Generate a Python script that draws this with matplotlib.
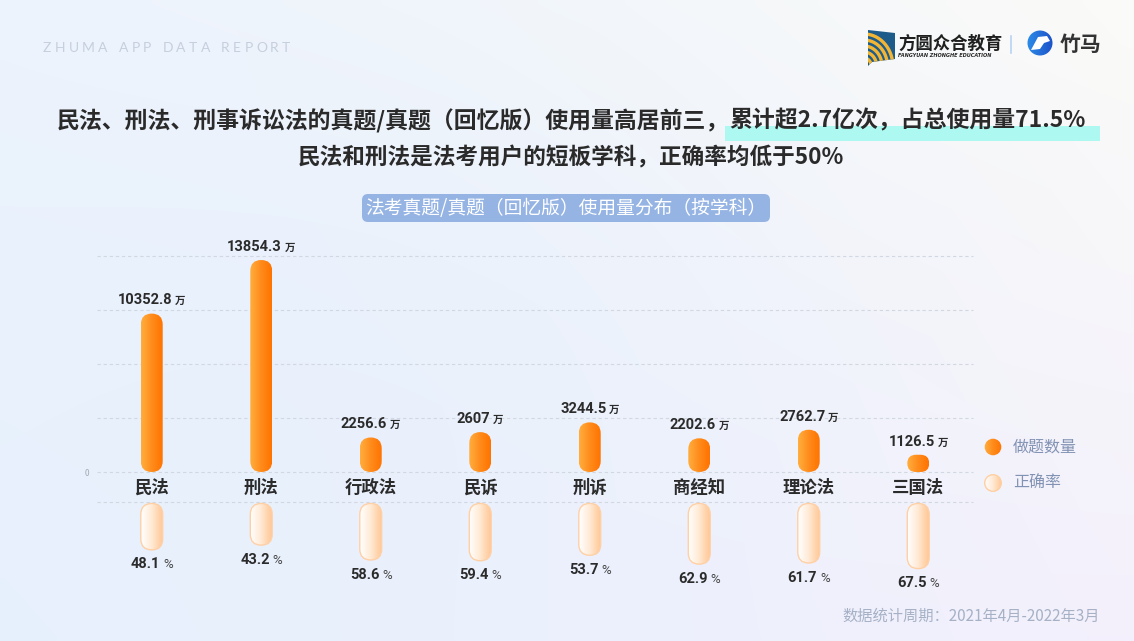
import numpy as np
import matplotlib
matplotlib.use('Agg')
import matplotlib.pyplot as plt
import matplotlib.colors as mcolors
from matplotlib.colors import LinearSegmentedColormap
from matplotlib.patches import FancyBboxPatch, Circle, Polygon, Rectangle
from matplotlib.offsetbox import TextArea, HPacker, AnnotationBbox
from matplotlib import font_manager

# ---------------- data ----------------
categories = ['民法', '刑法', '行政法', '民诉', '刑诉', '商经知', '理论法', '三国法']
usage_wan = [10352.8, 13854.3, 2256.6, 2607, 3244.5, 2202.6, 2762.7, 1126.5]
accuracy = [48.1, 43.2, 58.6, 59.4, 53.7, 62.9, 61.7, 67.5]
legend_labels = ['做题数量', '正确率']
title_a = '民法、刑法、刑事诉讼法的真题/真题（回忆版）使用量高居前三，'
title_b = '累计超2.7亿次，占总使用量71.5%'
title_2 = '民法和刑法是法考用户的短板学科，正确率均低于50%'
subtitle = '法考真题/真题（回忆版）使用量分布（按学科）'
header = 'ZHUMA APP DATA REPORT'
footer = '数据统计周期：2021年4月-2022年3月'
logo1_cn = '方圆众合教育'
logo1_en = 'FANGYUAN ZHONGHE EDUCATION'
logo2 = '竹马'

plt.rcParams['font.family'] = ['Noto Sans CJK SC', 'DejaVu Sans']

avail = {f.name for f in font_manager.fontManager.ttflist}
num_font = next((f for f in ['Liberation Sans Narrow', 'Roboto', 'DejaVu Sans'] if f in avail), 'DejaVu Sans')
lat_font = next((f for f in ['Lato', 'Open Sans', 'DejaVu Sans'] if f in avail), 'DejaVu Sans')

W, H, DPI = 1134, 641, 100
fig = plt.figure(figsize=(W / DPI, H / DPI), dpi=DPI)


def fx(px):
    return px / W


def fy(py):
    return 1 - py / H


# ---------------- background / decoration axes (pixel coords) ----------------
bg = fig.add_axes([0, 0, 1, 1], zorder=0)
bg.set_xlim(0, W)
bg.set_ylim(H, 0)
bg.axis('off')
c = {k: np.array(mcolors.to_rgb(v)) for k, v in
     dict(tl='#EEF4FD', tr='#FBFBF8', bl='#E7F1FD', br='#F4F0FC', mid='#E5EFFC').items()}
ny, nx = 80, 140
u = np.linspace(0, 1, nx)[None, :, None]
v = np.linspace(0, 1, ny)[:, None, None]
img = (1 - v) * ((1 - u) * c['tl'] + u * c['tr']) + v * ((1 - u) * c['bl'] + u * c['br'])
d = np.exp(-(((u - 0.3) / 0.45) ** 2 + ((v - 0.6) / 0.6) ** 2))
img = img * (1 - 0.5 * d) + c['mid'] * 0.5 * d
bg.imshow(np.clip(img, 0, 1), extent=(0, W, H, 0), aspect='auto', interpolation='bilinear', zorder=0)
bg.set_xlim(0, W)
bg.set_ylim(H, 0)

r = fig.canvas.get_renderer()

# header with letter spacing
xh = 43
for ch in header:
    if ch == ' ':
        xh += 8
        continue
    t = bg.text(xh, 48, ch, fontsize=10, color='#C6CFDD', family=lat_font, va='center', ha='left')
    xh += t.get_window_extent(r).width + 3.3

# logo 1 icon
icon = Polygon([(868, 30), (895, 33), (895, 59), (872, 62), (868, 66)], closed=True,
               fc='#1D5B8B', ec='none', zorder=2)
bg.add_patch(icon)
for k in range(5):
    th = np.linspace(-0.2, 1.6, 30)
    rr = 8 + k * 6
    ln, = bg.plot(864 + rr * np.cos(th) * 0.9, 66 - rr * np.sin(th),
                  color='#F2B634', lw=2.4, zorder=3, solid_capstyle='butt')
    ln.set_clip_path(icon)
bg.text(898, 44, logo1_cn, fontsize=12.5, fontweight='bold', color='#1F1F1F', va='center', ha='left')
bg.text(898, 55.5, logo1_en, fontsize=3.6, fontweight='bold', style='italic', color='#2A2A2A',
        family='DejaVu Sans', va='center', ha='left')
bg.plot([1011, 1011], [36, 53], color='#B9D3F2', lw=1.2)
# logo 2 icon
circ2 = Circle((1040, 43), 12.5, fc='none', ec='none')
bg.add_patch(circ2)
im = bg.imshow(np.linspace(0, 1, 32)[None, :], extent=(1027, 1053, 56, 30), aspect='auto',
               cmap=LinearSegmentedColormap.from_list('b', ['#2C8CE8', '#1E52C8']), zorder=2)
im.set_clip_path(circ2)
bg.add_patch(Polygon([(1031, 50), (1038, 37), (1047, 36), (1050, 41), (1044, 43), (1040, 49)],
                     fc='white', ec='none', zorder=3))
bg.text(1060, 44, logo2, fontsize=15, fontweight='bold', color='#333333', va='center', ha='left')

# titles with highlight
tkw = dict(fontsize=16.5, fontweight='bold', color='#2A2A2A', va='center', ha='left', zorder=3)
ta = bg.text(0, 121, title_a, **tkw)
tb = bg.text(0, 121, title_b, **tkw)
wa = ta.get_window_extent(r).width
wb = tb.get_window_extent(r).width
left = 571 - (wa + wb) / 2
ta.set_x(left)
tb.set_x(left + wa)
bg.add_patch(Rectangle((left + wa - 4, 126), wb + 19, 15, fc='#AEF8F2', ec='none', zorder=2))
bg.text(571, 158, title_2, fontsize=16.3, fontweight='bold', color='#2A2A2A', va='center', ha='center', zorder=3)

# subtitle pill
bg.add_patch(FancyBboxPatch((362, 194), 408, 28, boxstyle='round,pad=0,rounding_size=6',
                            fc='#95B4E3', ec='none', zorder=2))
bg.text(566, 208.5, subtitle, fontsize=13.5, color='white', va='center', ha='center', zorder=3)

# footer
bg.text(1100, 616, footer, fontsize=11, color='#A6B1C6', va='center', ha='right')

# ---------------- helpers ----------------
bar_cols = ['#FFAE3E', '#FF8C1C', '#FF7300']
acc_cols = ['#FFFFFF', '#FFE9D4', '#FFC795']


def grad_capsule(axis, x0, y0, w, h, ma, cols, ec='none', lw=0, z=3):
    rad = min(w / 2, abs(h) / ma / 2)
    p = FancyBboxPatch((x0, y0), w, h, boxstyle=f'round,pad=0,rounding_size={rad}',
                       mutation_aspect=ma, fc='none', ec=ec, lw=lw, zorder=z + 1)
    axis.add_patch(p)
    im_ = axis.imshow(np.linspace(0, 1, 64)[None, :], extent=(x0, x0 + w, y0, y0 + h), aspect='auto',
                      cmap=LinearSegmentedColormap.from_list('g', cols), zorder=z,
                      interpolation='bilinear')
    im_.set_clip_path(p)
    return p


# legend
for (cy, cols, ec), lab in zip([(447, bar_cols, 'none'), (483, acc_cols, '#FFCFA3')], legend_labels):
    cc = Circle((993, cy), 8.3, fc='none', ec=ec, lw=1, zorder=4)
    bg.add_patch(cc)
    imc = bg.imshow(np.linspace(0, 1, 32)[None, :], extent=(984, 1002, cy + 9, cy - 9), aspect='auto',
                    cmap=LinearSegmentedColormap.from_list('l', cols), zorder=3)
    imc.set_clip_path(cc)
    bg.text(1013, cy, lab, fontsize=11.5, color='#8192B3', va='center', ha='left')
bg.set_xlim(0, W)
bg.set_ylim(H, 0)

# ---------------- top axes: usage ----------------
x = np.arange(len(categories))
ax_l, ax_r = 97, 973
ax = fig.add_axes([fx(ax_l), fy(472), (ax_r - ax_l) / W, (472 - 250) / H], zorder=2)
ax.patch.set_alpha(0)
xlim = (-0.5, len(categories) - 0.5)
ymax = 14508
ax.set_xlim(*xlim)
ax.set_ylim(0, ymax)
grid_step = 3530
ax.set_yticks(np.arange(5) * grid_step)
ax.set_yticklabels(['0', '', '', '', ''])
ax.grid(axis='y', color='#D2D8E1', linestyle=(0, (3, 2.5)), lw=0.8, zorder=0)
for gl in ax.get_ygridlines():
    gl.set_clip_on(False)
for s in ax.spines.values():
    s.set_visible(False)
ax.set_xticks(x)
ax.set_xticklabels(categories, fontsize=12.5, fontweight='bold', color='#2B2B2B')
ax.tick_params(axis='x', length=0, pad=5)
ax.tick_params(axis='y', length=0, pad=6, labelsize=6, labelcolor='#A3AAB6')

pxx = (ax_r - ax_l) / (xlim[1] - xlim[0])
pxy = (472 - 250) / ymax
ma1 = pxx / pxy
bw = 0.2
for i, val in enumerate(usage_wan):
    grad_capsule(ax, x[i] - bw / 2, 0, bw, val, ma1, bar_cols)
    t1 = TextArea(f'{val:g}', textprops=dict(fontsize=10.5, fontweight='bold', color='#2B2B2B',
                                               family=num_font))
    t2 = TextArea('万', textprops=dict(fontsize=7.5, fontweight='bold', color='#2B2B2B'))
    pk = HPacker(children=[t1, t2], sep=2, pad=0, align='baseline')
    ab = AnnotationBbox(pk, (x[i], val), xybox=(0, 9.5), xycoords='data', boxcoords='offset points',
                        frameon=False, box_alignment=(0.5, 0.5), annotation_clip=False, zorder=6)
    ax.add_artist(ab)
ax.set_xlim(*xlim)
ax.set_ylim(0, ymax)

# ---------------- bottom axes: accuracy ----------------
ax2 = fig.add_axes([fx(ax_l), fy(600), (ax_r - ax_l) / W, (600 - 502) / H], zorder=2)
ax2.patch.set_alpha(0)
ax2.axis('off')
px_per_pct = 0.965
ymax2 = (600 - 502) / px_per_pct
ax2.set_xlim(*xlim)
ax2.set_ylim(ymax2, 0)
ax2.axhline(0, color='#D2D8E1', linestyle=(0, (3, 2.5)), lw=0.8, clip_on=False, zorder=0)
ma2 = pxx / px_per_pct
gap = 1.5
for i, acc in enumerate(accuracy):
    grad_capsule(ax2, x[i] - bw / 2, gap, bw, acc, ma2, acc_cols, ec='#FFD0A6', lw=1)
    t1 = TextArea(f'{acc:.1f}', textprops=dict(fontsize=10.5, fontweight='bold', color='#2B2B2B',
                                                 family=num_font))
    t2 = TextArea('%', textprops=dict(fontsize=9.5, color='#444444', family=num_font))
    pk = HPacker(children=[t1, t2], sep=2, pad=0, align='baseline')
    ab = AnnotationBbox(pk, (x[i], gap + acc), xybox=(0, -10.5), xycoords='data', boxcoords='offset points',
                        frameon=False, box_alignment=(0.5, 0.5), annotation_clip=False, zorder=6)
    ax2.add_artist(ab)
ax2.set_xlim(*xlim)
ax2.set_ylim(ymax2, 0)

fig.savefig('out.png', dpi=DPI)
